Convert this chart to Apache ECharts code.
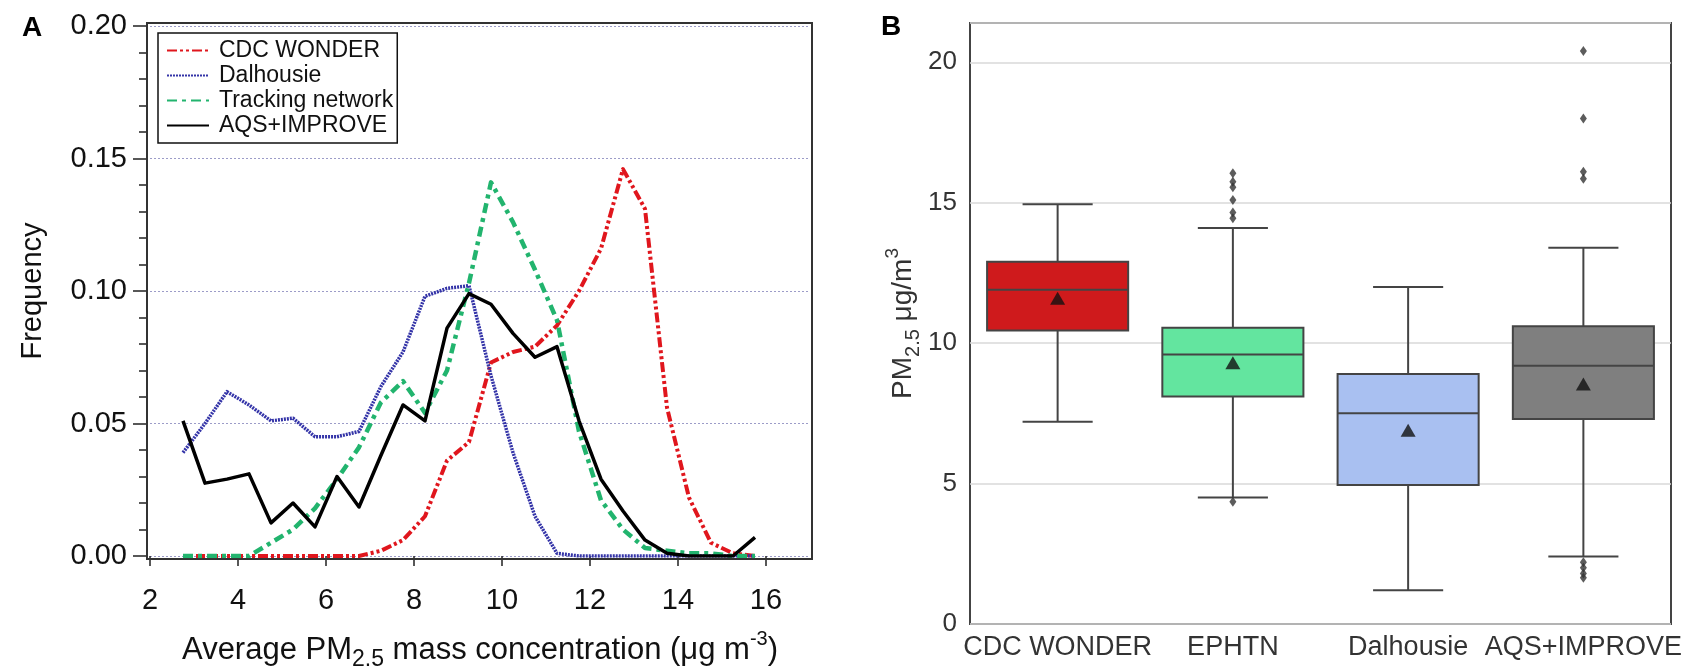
<!DOCTYPE html>
<html>
<head>
<meta charset="utf-8">
<script src="https://cdn.jsdelivr.net/npm/echarts@6/dist/echarts.min.js"></script>
<style>
html,body{margin:0;padding:0;background:#fff;}
#c{width:1690px;height:666px;}
</style>
</head>
<body>
<div id="c"></div>
<script>
// ---------- Panel A data ----------
const binCenters = [2.75,3.25,3.75,4.25,4.75,5.25,5.75,6.25,6.75,7.25,7.75,8.25,8.75,9.25,9.75,10.25,10.75,11.25,11.75,12.25,12.75,13.25,13.75,14.25,14.75,15.25,15.75];
const cdcWonder       = [0,0,0,0,0,0,0,0,0,0.002,0.006,0.015,0.036,0.043,0.073,0.077,0.079,0.087,0.100,0.116,0.146,0.131,0.056,0.022,0.005,0.001,0];
const dalhousie       = [0.039,0.050,0.062,0.057,0.051,0.052,0.045,0.045,0.047,0.064,0.077,0.098,0.101,0.102,0.068,0.039,0.015,0.001,0,0,0,0,0,0,0,0,0];
const trackingNetwork = [0,0,0,0,0.005,0.010,0.018,0.029,0.041,0.058,0.066,0.054,0.070,0.103,0.141,0.126,0.108,0.089,0.047,0.021,0.010,0.003,0.002,0.001,0.001,0,0];
const aqsImprove      = [0.051,0.0275,0.029,0.031,0.0125,0.020,0.011,0.030,0.0185,0.038,0.057,0.051,0.086,0.099,0.095,0.084,0.075,0.079,0.051,0.029,0.017,0.006,0.001,0,0,0,0.007];
const seriesNamesA = ['CDC WONDER','Dalhousie','Tracking network','AQS+IMPROVE'];
const xTickValuesA = [2,4,6,8,10,12,14,16];

// ---------- Panel B data ----------
const boxCategories = ['CDC WONDER','EPHTN','Dalhousie','AQS+IMPROVE'];
const boxLow    = [7.2, 4.5, 1.2, 2.4];
const boxQ1     = [10.45, 8.1, 4.95, 7.3];
const boxMedian = [11.9, 9.6, 7.5, 9.2];
const boxQ3     = [12.9, 10.55, 8.9, 10.6];
const boxHigh   = [14.95, 14.1, 12.0, 13.4];
const boxMean   = [11.6, 9.3, 6.9, 8.55];
const ephtnOutliers = [16.05, 15.75, 15.55, 15.1, 14.65, 14.45, 4.35];
const aqsOutliers   = [20.4, 18.0, 16.1, 15.85, 2.2, 2.0, 1.8, 1.65];
const yTickValuesB = [0,5,10,15,20];

// ---------- styles ----------
const FONT = '"Liberation Sans", Arial, Helvetica, sans-serif';
const lineColors = ['#e0161d','#3434a8','#22b46e','#000000'];
const boxColors = ['#cf1a1c','#63e59f','#a9c0f1','#7f7f7f'];
const boxEdge = '#444444';

function pairs(xs, ys){ return xs.map((x,i)=>[x, ys[i]]); }

const lineDefs = [
  {vals: cdcWonder, width: 4, type: [10,3,3,3,3,3]},
  {vals: dalhousie, width: 3.5, type: [2,1]},
  {vals: trackingNetwork, width: 4.5, type: [10,5,4,5]},
  {vals: aqsImprove, width: 3.5, type: 'solid'}
];

const seriesA = lineDefs.map((d,i)=>({
  type:'line', name: seriesNamesA[i], xAxisIndex:0, yAxisIndex:0,
  data: pairs(binCenters, d.vals), symbol:'none', smooth:false,
  lineStyle:{color: lineColors[i], width: d.width, type: d.type, cap:'butt', join:'round'},
  itemStyle:{color: lineColors[i]}, z: 3+i, animation:false
}));

const boxSeries = {
  type:'custom', xAxisIndex:2, yAxisIndex:2, z:3, animation:false,
  data: boxCategories.map((c,i)=>[i, boxLow[i], boxQ1[i], boxMedian[i], boxQ3[i], boxHigh[i]]),
  encode:{x:0, y:[1,2,3,4,5]},
  renderItem: function(params, api){
    const idx = api.value(0);
    const low = api.coord([idx, api.value(1)]);
    const q1  = api.coord([idx, api.value(2)]);
    const med = api.coord([idx, api.value(3)]);
    const q3  = api.coord([idx, api.value(4)]);
    const high= api.coord([idx, api.value(5)]);
    const band = api.size([1,0])[0];
    const bw = band*0.805, cw = band*0.4;
    const x = low[0];
    const st = {stroke: boxEdge, lineWidth: 2, fill: null};
    return {type:'group', children:[
      {type:'line', shape:{x1:x,y1:high[1],x2:x,y2:q3[1]}, style:st},
      {type:'line', shape:{x1:x,y1:q1[1],x2:x,y2:low[1]}, style:st},
      {type:'line', shape:{x1:x-cw/2,y1:high[1],x2:x+cw/2,y2:high[1]}, style:st},
      {type:'line', shape:{x1:x-cw/2,y1:low[1],x2:x+cw/2,y2:low[1]}, style:st},
      {type:'rect', shape:{x:x-bw/2,y:q3[1],width:bw,height:q1[1]-q3[1]}, style:{fill: boxColors[idx], stroke: boxEdge, lineWidth:2}},
      {type:'line', shape:{x1:x-bw/2,y1:med[1],x2:x+bw/2,y2:med[1]}, style:st}
    ]};
  }
};

const meanSeries = {
  type:'scatter', xAxisIndex:2, yAxisIndex:2, z:5, animation:false,
  data: boxMean.map((m,i)=>[i,m]), symbol:'triangle', symbolSize:[15,13],
  itemStyle:{color:'#111'}
};
const outlierSeries = {
  type:'scatter', xAxisIndex:2, yAxisIndex:2, z:5, animation:false,
  data: ephtnOutliers.map(v=>[1,v]).concat(aqsOutliers.map(v=>[3,v])),
  symbol:'diamond', symbolSize:[7,10], itemStyle:{color:'#333'}
};

const option = {
  backgroundColor:'#fff',
  animation:false,
  textStyle:{fontFamily: FONT},
  title:[
    {text:'A', left:17, top:9, textStyle:{fontSize:28, fontWeight:'bold', color:'#000', fontFamily:FONT}},
    {text:'B', left:876, top:8, textStyle:{fontSize:28, fontWeight:'bold', color:'#000', fontFamily:FONT}}
  ],
  legend:{
    left:158, top:33, orient:'vertical', selectedMode:false,
    data: seriesNamesA, itemWidth:42, itemHeight:14, itemGap:0,
    padding:[5,4,5,8], borderColor:'#111', borderWidth:1.5, backgroundColor:'#fff',
    itemStyle:{opacity:0, color:'transparent', borderWidth:0},
    textStyle:{fontSize:23, lineHeight:25, color:'#111', fontFamily:FONT, padding:[0,0,0,5]}
  },
  grid:[
    {left:150, right:880, top:26, bottom:110, outerBoundsMode:'none', containLabel:false},
    {left:147, right:878, top:23, bottom:107, show:true, borderColor:'#333', borderWidth:2, backgroundColor:'transparent', z:1, outerBoundsMode:'none', containLabel:false},
    {left:970, right:19, top:23, bottom:42, show:true, borderColor:'#444', borderWidth:2, backgroundColor:'transparent', outerBoundsMode:'none', containLabel:false}
  ],
  xAxis:[
    {gridIndex:0, type:'value', min:2, max:17, offset:3,
     axisLine:{show:false},
     axisTick:{show:true, customValues:xTickValuesA, length:10, lineStyle:{color:'#222', width:1.5}},
     axisLabel:{customValues:xTickValuesA, fontSize:29, color:'#111', margin:27, fontFamily:FONT},
     splitLine:{show:false},
     name:'Average PM{sub|2.5} mass concentration (μg m{sup|-3})',
     nameLocation:'middle', nameGap:70,
     nameTextStyle:{fontSize:31, color:'#111', lineHeight:42, fontFamily:FONT,
       rich:{
         sub:{fontSize:23, lineHeight:23, verticalAlign:'bottom', color:'#111', fontFamily:FONT},
         sup:{fontSize:20, lineHeight:20, verticalAlign:'top', color:'#111', fontFamily:FONT}
       }}
    },
    {gridIndex:1, type:'value', show:false, min:0, max:1},
    {gridIndex:2, type:'category', data: boxCategories, boundaryGap:true,
     axisLine:{show:false}, axisTick:{show:false},
     axisLabel:{interval:0, fontSize:27, color:'#333', margin:10, fontFamily:FONT},
     splitLine:{show:false}}
  ],
  yAxis:[
    {gridIndex:0, type:'value', min:0, max:0.2, interval:0.05, offset:3,
     axisLine:{show:false},
     axisTick:{show:true, length:14, lineStyle:{color:'#222', width:1.5}},
     minorTick:{show:true, splitNumber:5, length:8, lineStyle:{color:'#222', width:1.5}},
     axisLabel:{formatter:(v)=>v.toFixed(2), fontSize:29, color:'#111', margin:20, fontFamily:FONT},
     splitLine:{show:true, lineStyle:{type:[2,2], color:'#9c9cc8', width:1}},
     name:'Frequency', nameLocation:'middle', nameRotate:90, nameGap:100,
     nameTextStyle:{fontSize:29, color:'#111', fontFamily:FONT}
    },
    {gridIndex:1, type:'value', show:false, min:0, max:1},
    {gridIndex:2, type:'value', min:0, max:21.4, interval:5,
     axisLine:{show:false}, axisTick:{show:false},
     axisLabel:{customValues:yTickValuesB, fontSize:26, color:'#333', margin:13, fontFamily:FONT},
     splitLine:{show:true, lineStyle:{color:'#d9d9d9', width:1.5}},
     name:'PM{sub|2.5} μg/m{sup|3}', nameLocation:'middle', nameRotate:90, nameGap:47,
     nameTextStyle:{fontSize:28, color:'#333', lineHeight:40, fontFamily:FONT,
       rich:{
         sub:{fontSize:20, lineHeight:20, verticalAlign:'bottom', color:'#333', fontFamily:FONT},
         sup:{fontSize:19, lineHeight:19, verticalAlign:'top', color:'#333', fontFamily:FONT}
       }}
    }
  ],
  series: seriesA.concat([boxSeries, meanSeries, outlierSeries])
};

const chart = echarts.init(document.getElementById('c'), null, {renderer:'canvas'});
chart.setOption(option);
</script>
</body>
</html>
